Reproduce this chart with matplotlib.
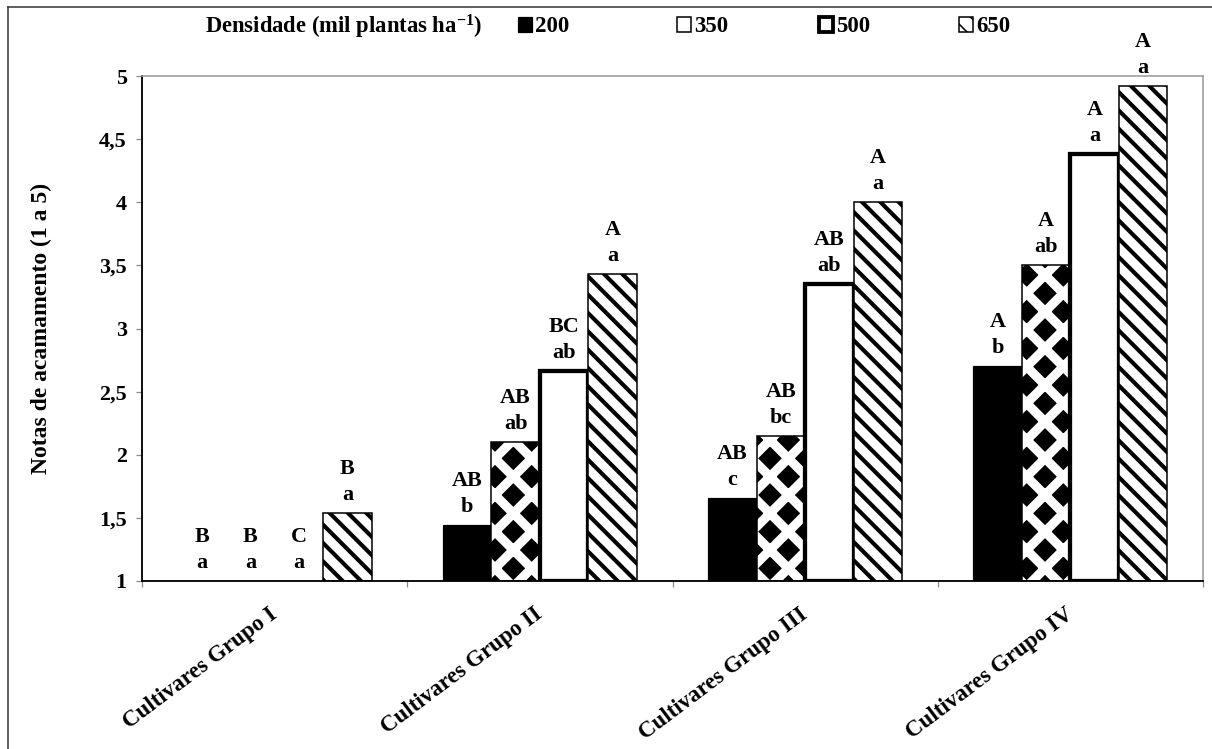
import numpy as np
import matplotlib
matplotlib.use("Agg")
import matplotlib.pyplot as plt
from matplotlib.patches import Patch
from matplotlib.lines import Line2D
from matplotlib.transforms import ScaledTranslation

# ---- data ----
categories = ["Cultivares Grupo I", "Cultivares Grupo II", "Cultivares Grupo III", "Cultivares Grupo IV"]
series_names = ["200", "350", "500", "650"]
v200 = [1.00, 1.44, 1.66, 2.70]
v350 = [1.00, 2.10, 2.15, 3.50]
v500 = [1.00, 2.66, 3.35, 4.38]
v650 = [1.54, 3.43, 4.00, 4.92]
upper200 = ["B", "AB", "AB", "A"]
upper350 = ["B", "AB", "AB", "A"]
upper500 = ["C", "BC", "AB", "A"]
upper650 = ["B", "A", "A", "A"]
lower200 = ["a", "b", "c", "b"]
lower350 = ["a", "ab", "bc", "ab"]
lower500 = ["a", "ab", "ab", "a"]
lower650 = ["a", "a", "a", "a"]
yticks = [1, 1.5, 2, 2.5, 3, 3.5, 4, 4.5, 5]
ytick_labels = ["1", "1,5", "2", "2,5", "3", "3,5", "4", "4,5", "5"]

values = [v200, v350, v500, v650]
uppers = [upper200, upper350, upper500, upper650]
lowers = [lower200, lower350, lower500, lower650]

DPI = 110
W, H = 1212, 749
plt.rcParams['font.family'] = ['Liberation Serif', 'DejaVu Serif']
plt.rcParams['font.weight'] = 'bold'
plt.rcParams['mathtext.default'] = 'regular'

fig = plt.figure(figsize=(W / DPI, H / DPI), dpi=DPI)
ax = fig.add_axes([142 / W, 1 - 581 / H, (1203 - 142) / W, (581 - 76) / H])

x = np.arange(len(categories))
bw = 0.183


def with_hatch_lw(artist, lw):
    """Draw the artist with its own hatch line width."""
    orig = artist.draw

    def draw(renderer, _orig=orig, _lw=lw):
        with plt.rc_context({'hatch.linewidth': _lw}):
            _orig(renderer)
    artist.draw = draw
    if hasattr(artist, "set_hatch_linewidth"):
        artist.set_hatch_linewidth(lw)


styles = [
    dict(facecolor="black", edgecolor="black", linewidth=0.8, hatch=None, hlw=1.0),
    dict(facecolor="black", edgecolor="white", linewidth=0, hatch="x", hlw=6.0),
    dict(facecolor="white", edgecolor="black", linewidth=2.8, hatch=None, hlw=1.0),
    dict(facecolor="white", edgecolor="black", linewidth=1.0, hatch="\\\\", hlw=2.7),
]

for i, (vals, st) in enumerate(zip(values, styles)):
    xs = x + (i - 1.5) * bw
    heights = np.array(vals) - 1.0
    bars = ax.bar(xs, heights, bw, bottom=1.0, facecolor=st["facecolor"],
                  edgecolor=st["edgecolor"], linewidth=st["linewidth"],
                  hatch=st["hatch"], zorder=2)
    for b, h in zip(bars, heights):
        with_hatch_lw(b, st["hlw"])
        if h <= 0:
            b.set_visible(False)
    if i == 1:
        ob = ax.bar(xs, heights, bw, bottom=1.0, facecolor="none",
                    edgecolor="black", linewidth=1.0, zorder=3)
        for b, h in zip(ob, heights):
            if h <= 0:
                b.set_visible(False)
    for xi, v, up, lo in zip(xs, vals, uppers[i], lowers[i]):
        ax.annotate(lo, xy=(xi, v), xytext=(0, 8.5), textcoords="offset points",
                    ha="center", va="baseline", fontsize=14.5, fontweight="bold")
        ax.annotate(up, xy=(xi, v), xytext=(0, 25.5), textcoords="offset points",
                    ha="center", va="baseline", fontsize=14.5, fontweight="bold")

ax.set_xlim(-0.5, 3.5)
ax.set_ylim(1, 5)
ax.set_yticks(yticks)
ax.set_yticklabels(ytick_labels, fontsize=14.5, fontweight="bold")
ax.tick_params(axis="y", direction="out", length=4, width=0.8, color="#888888", pad=6)

ax.set_xticks(np.arange(-0.5, 4.0, 1.0))
ax.set_xticklabels([])
ax.tick_params(axis="x", which="major", direction="out", length=4, width=0.8, color="#888888")
ax.set_xticks(x, minor=True)
ax.tick_params(axis="x", which="minor", length=0, pad=15)
ax.set_xticklabels(categories, minor=True, rotation=37, ha="right", va="top",
                   rotation_mode="anchor", fontsize=15, fontweight="bold")
shift = ScaledTranslation(-4 / 72, 0, fig.dpi_scale_trans)
for lbl in ax.get_xticklabels(minor=True):
    lbl.set_transform(lbl.get_transform() + shift)

for side in ["top", "right"]:
    ax.spines[side].set_color("#999999")
    ax.spines[side].set_linewidth(1.0)
for side in ["left", "bottom"]:
    ax.spines[side].set_color("black")
    ax.spines[side].set_linewidth(1.2)

ax.set_ylabel("Notas de acamamento (1 a 5)", fontsize=15.5, fontweight="bold")
ax.yaxis.set_label_coords((52 - 142) / (1203 - 142), 0.5)

# legend
fig.text(205 / W, 1 - 27 / H, "Densidade (mil plantas ha$^{-1}$)", ha="left", va="center",
         fontsize=14.8, fontweight="bold")
handles = [
    Patch(facecolor="black", edgecolor="black", linewidth=0.8),
    Patch(facecolor="white", edgecolor="black", linewidth=1.0),
    Patch(facecolor="white", edgecolor="black", linewidth=2.5),
    Patch(facecolor="white", edgecolor="black", linewidth=1.0, hatch="\\\\"),
]
leg_x = [518, 677, 819, 959]
for hnd, name, lx in zip(handles, series_names, leg_x):
    leg = fig.legend([hnd], [name], loc="center left", bbox_to_anchor=(lx / W, 1 - 27 / H),
                     frameon=False, fontsize=15, handlelength=0.6, handleheight=0.6,
                     handletextpad=0.15, borderpad=0, borderaxespad=0)
    for t in leg.get_texts():
        t.set_fontweight("bold")

# outer frame (left and top visible)
fig.add_artist(Line2D([8 / W, 8 / W], [0, 1 - 7 / H], transform=fig.transFigure, color="#333333", lw=1.0))
fig.add_artist(Line2D([8 / W, 1], [1 - 7 / H, 1 - 7 / H], transform=fig.transFigure, color="#333333", lw=1.0))

fig.savefig("out.png", dpi=DPI)
